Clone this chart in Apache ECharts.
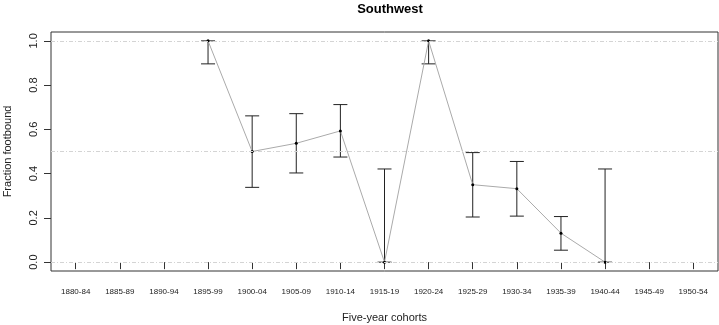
<!DOCTYPE html>
<html>
<head>
<meta charset="utf-8">
<script src="https://cdn.jsdelivr.net/npm/echarts@6/dist/echarts.min.js"></script>
<style>
  html, body { margin: 0; padding: 0; background: #fff; }
  #chart { width: 719px; height: 325px; }
</style>
</head>
<body>
<div id="chart"></div>
<script>
// 五年队列
const cohorts = [
  "1880-84", "1885-89", "1890-94", "1895-99", "1900-04", "1905-09", "1910-14", "1915-19",
  "1920-24", "1925-29", "1930-34", "1935-39", "1940-44", "1945-49", "1950-54",
];
// null = no data for that cohort
const fraction = [null, null, null, 1.0, 0.5, 0.537, 0.593, 0.0, 1.0, 0.35, 0.332, 0.131, 0.0, null, null];
const lower    = [null, null, null, 0.896, 0.338, 0.403, 0.475, 0.0, 0.896, 0.204, 0.208, 0.054, 0.0, null, null];
const upper    = [null, null, null, 1.0, 0.661, 0.671, 0.712, 0.421, 1.0, 0.495, 0.455, 0.206, 0.421, null, null];
const yTicks = [0, 0.2, 0.4, 0.6, 0.8, 1.0];
const refLines = [0, 0.5, 1.0];

const FONT = "Liberation Sans";
const INK = "#222";

const xPos = cohorts.map((_, i) => i + 1);
const points = [];
const bars = [];
fraction.forEach((v, i) => {
  if (v == null) return;
  points.push([xPos[i], v]);
  bars.push([xPos[i], lower[i], upper[i]]);
});

const chart = echarts.init(document.getElementById("chart"));
chart.setOption({
  animation: false,
  title: {
    text: "Southwest",
    left: 385, top: -2, textAlign: "center",
    textStyle: { fontFamily: FONT, fontSize: 13, fontWeight: "bold", color: "#000" },
  },
  grid: {
    left: 51, right: 1, top: 32, bottom: 54,
    outerBoundsMode: "none",
    show: true, borderColor: "#333", borderWidth: 1, backgroundColor: "transparent",
  },
  xAxis: {
    type: "value",
    min: 0.44, max: 15.56,
    name: "Five-year cohorts",
    nameLocation: "middle", nameGap: 41,
    nameTextStyle: { fontFamily: FONT, fontSize: 11, color: INK },
    axisLine: { show: false },
    axisTick: { show: true, inside: false, length: 7, lineStyle: { color: "#333" }, customValues: xPos },
    axisLabel: {
      customValues: xPos, margin: 17,
      fontFamily: FONT, fontSize: 8, color: INK,
      formatter: (v) => cohorts[Math.round(v) - 1] || "",
    },
    splitLine: { show: false },
  },
  yAxis: {
    type: "value",
    min: -0.04, max: 1.04,
    name: "Fraction footbound",
    nameLocation: "middle", nameGap: 38, nameRotate: 90,
    nameTextStyle: { fontFamily: FONT, fontSize: 11, color: INK },
    axisLine: { show: false },
    axisTick: { show: true, inside: false, length: 7, lineStyle: { color: "#333" }, customValues: yTicks },
    axisLabel: {
      customValues: yTicks, rotate: 90, margin: 12,
      fontFamily: FONT, fontSize: 11, color: INK,
      formatter: (v) => v.toFixed(1),
    },
    splitLine: { show: false },
  },
  series: [
    {
      type: "line",
      data: points,
      symbol: "circle", symbolSize: 3,
      itemStyle: { color: "#000" },
      lineStyle: { color: "#aaa", width: 1 },
      z: 3,
      markLine: {
        silent: true, symbol: "none",
        label: { show: false },
        lineStyle: { color: "#d4d4d4", width: 1, type: [4, 2, 1, 2] },
        data: refLines.map((y) => ({ yAxis: y })),
      },
    },
    {
      type: "custom",
      data: bars,
      z: 2,
      renderItem: (params, api) => {
        const lo = api.coord([api.value(0), api.value(1)]);
        const hi = api.coord([api.value(0), api.value(2)]);
        const w = 7;
        const style = { stroke: "#222", lineWidth: 1 };
        return {
          type: "group",
          children: [
            { type: "line", shape: { x1: lo[0], y1: lo[1], x2: hi[0], y2: hi[1] }, style },
            { type: "line", shape: { x1: lo[0] - w, y1: lo[1], x2: lo[0] + w, y2: lo[1] }, style },
            { type: "line", shape: { x1: hi[0] - w, y1: hi[1], x2: hi[0] + w, y2: hi[1] }, style },
          ],
        };
      },
    },
  ],
});
</script>
</body>
</html>
